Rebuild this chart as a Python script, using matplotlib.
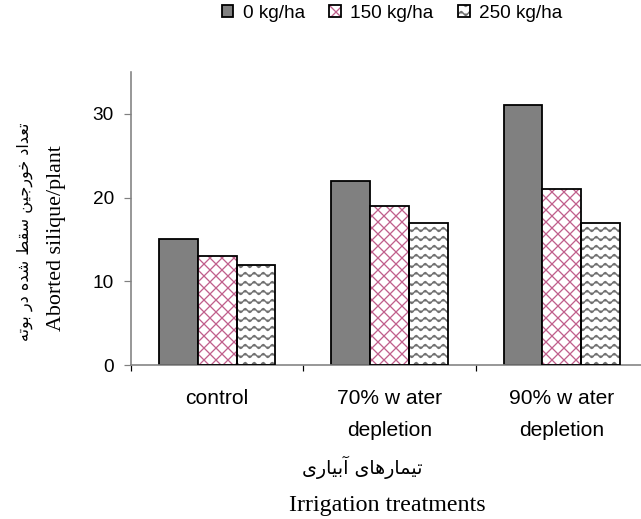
import warnings
import numpy as np
import matplotlib
matplotlib.use("Agg")
import matplotlib.pyplot as plt
from matplotlib import hatch as mhatch
from matplotlib.path import Path
from matplotlib.legend_handler import HandlerTuple

warnings.filterwarnings("ignore")

# ---------------- data ----------------
categories = ["control", "70% w ater\ndepletion", "90% w ater\ndepletion"]
series_names = ["0 kg/ha", "150 kg/ha", "250 kg/ha"]
values_0 = [15, 22, 31]
values_150 = [13, 19, 21]
values_250 = [12, 17, 17]
y_ticks = [0, 10, 20, 30]
ylabel_fa = "تعداد خورجین سقط شده در بوته"
ylabel_en = "Aborted silique/plant"
xlabel_fa = "تیمارهای آبیاری"
xlabel_en = "Irrigation treatments"

# ---------------- simple Persian shaping ----------------
AR_FORMS = {
    'ا': ('\uFE8D', '\uFE8E', None, None),
    'آ': ('\uFE81', '\uFE82', None, None),
    'ب': ('\uFE8F', '\uFE90', '\uFE91', '\uFE92'),
    'ت': ('\uFE95', '\uFE96', '\uFE97', '\uFE98'),
    'ج': ('\uFE9D', '\uFE9E', '\uFE9F', '\uFEA0'),
    'خ': ('\uFEA5', '\uFEA6', '\uFEA7', '\uFEA8'),
    'د': ('\uFEA9', '\uFEAA', None, None),
    'ر': ('\uFEAD', '\uFEAE', None, None),
    'س': ('\uFEB1', '\uFEB2', '\uFEB3', '\uFEB4'),
    'ش': ('\uFEB5', '\uFEB6', '\uFEB7', '\uFEB8'),
    'ط': ('\uFEC1', '\uFEC2', '\uFEC3', '\uFEC4'),
    'ع': ('\uFEC9', '\uFECA', '\uFECB', '\uFECC'),
    'ق': ('\uFED5', '\uFED6', '\uFED7', '\uFED8'),
    'م': ('\uFEE1', '\uFEE2', '\uFEE3', '\uFEE4'),
    'ن': ('\uFEE5', '\uFEE6', '\uFEE7', '\uFEE8'),
    'ه': ('\uFEE9', '\uFEEA', '\uFEEB', '\uFEEC'),
    'و': ('\uFEED', '\uFEEE', None, None),
    'ی': ('\uFEEF', '\uFEF0', '\uFEF3', '\uFEF4'),
}


def shape_fa(s):
    out = []
    n = len(s)
    for i, ch in enumerate(s):
        if ch not in AR_FORMS:
            out.append(ch)
            continue
        f = AR_FORMS[ch]
        prev = s[i - 1] if i > 0 else None
        nxt = s[i + 1] if i < n - 1 else None
        prev_j = prev in AR_FORMS and AR_FORMS[prev][2] is not None
        next_j = nxt in AR_FORMS and f[2] is not None
        if prev_j and next_j:
            out.append(f[3])
        elif prev_j:
            out.append(f[1])
        elif next_j:
            out.append(f[2])
        else:
            out.append(f[0])
    return "".join(out)[::-1]


# ---------------- custom wavy hatch ----------------
class WaveHatch(mhatch.HatchPatternBase):
    pts_per_row = 8 * 8 + 1

    def __init__(self, hatch, density):
        self.num_rows = int(hatch.count('~')) * 8
        self.num_vertices = self.num_rows * self.pts_per_row

    def set_vertices_and_codes(self, vertices, codes):
        xs = np.linspace(0, 1, self.pts_per_row)
        ys = 0.028 * np.sin(2 * np.pi * 8 * xs)
        for r in range(self.num_rows):
            y0 = (r + 0.5) / self.num_rows
            sl = slice(r * self.pts_per_row, (r + 1) * self.pts_per_row)
            vertices[sl, 0] = xs
            vertices[sl, 1] = y0 + ys
            codes[sl] = Path.LINETO
            codes[r * self.pts_per_row] = Path.MOVETO


mhatch._hatch_types.append(WaveHatch)

plt.rcParams['hatch.linewidth'] = 1.3
plt.rcParams['font.family'] = ['Liberation Sans', 'DejaVu Sans']

DPI = 72
fig = plt.figure(figsize=(641 / DPI, 519 / DPI), dpi=DPI)
ax = fig.add_axes([131 / 641, 154 / 519, 517 / 641, 293 / 519])

x = np.arange(len(categories))
w = 0.225
edge_lw = 1.8

b0 = ax.bar(x - w, values_0, w, color='#808080', edgecolor='black', linewidth=edge_lw, zorder=2)
b1h = ax.bar(x, values_150, w, color='white', edgecolor='#c0608c', linewidth=0, hatch='xx', zorder=2)
b1e = ax.bar(x, values_150, w, fill=False, edgecolor='black', linewidth=edge_lw, zorder=3)
b2h = ax.bar(x + w, values_250, w, color='white', edgecolor='#707070', linewidth=0, hatch='~', zorder=2)
b2e = ax.bar(x + w, values_250, w, fill=False, edgecolor='black', linewidth=edge_lw, zorder=3)

ax.set_xlim(-0.5, len(categories) - 0.5)
ax.set_ylim(0, 35)
ax.set_yticks(y_ticks)
ax.set_xticks(x)
ax.set_xticklabels(categories, linespacing=1.9)
ax.set_xticks(np.arange(-0.5, len(categories), 1.0), minor=True)

for s in ['top', 'right']:
    ax.spines[s].set_visible(False)
for s in ['left', 'bottom']:
    ax.spines[s].set_color('#808080')
    ax.spines[s].set_linewidth(1.6)

ax.tick_params(axis='y', direction='out', length=7, width=1.2, color='#808080',
               labelsize=19, pad=10)
ax.tick_params(axis='x', which='major', length=0, labelsize=21, pad=24)
ax.tick_params(axis='x', which='minor', direction='out', length=6, width=1.2, color='black')

# axis titles
fig.text(25 / 641, 1 - 232 / 519, shape_fa(ylabel_fa), rotation=90, ha='center', va='center',
         fontsize=16, family=['DejaVu Sans'])
fig.text(57 / 641, 1 - 238 / 519, ylabel_en, rotation=90, ha='center', va='center',
         fontsize=22, family=['Liberation Serif'])
fig.text(362 / 641, 1 - 467 / 519, shape_fa(xlabel_fa), ha='center', va='center',
         fontsize=19, family=['DejaVu Sans'])
fig.text(387 / 641, 1 - 505 / 519, xlabel_en, ha='center', va='center',
         fontsize=24, family=['Liberation Serif'])

handles = [b0.patches[0], (b1h.patches[0], b1e.patches[0]), (b2h.patches[0], b2e.patches[0])]
leg = fig.legend(handles, series_names,
                 handler_map={tuple: HandlerTuple(ndivide=1, pad=0)},
                 loc='center', bbox_to_anchor=(392 / 641, 1 - 13 / 519), ncol=3,
                 frameon=False, fontsize=19, handlelength=0.6, handleheight=0.6,
                 handletextpad=0.5, columnspacing=1.3, borderpad=0, borderaxespad=0)

fig.savefig('out.png', dpi=DPI)
